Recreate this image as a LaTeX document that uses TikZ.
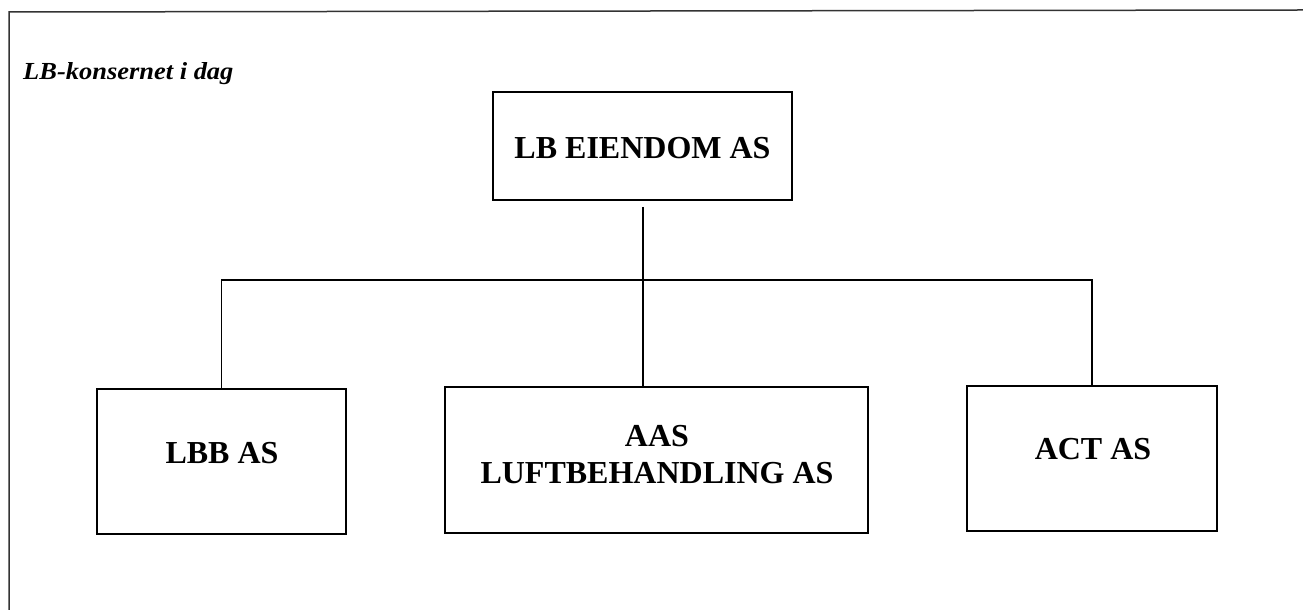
\documentclass[tikz,border=0pt]{standalone}
\usepackage{fontspec}
\setmainfont{Liberation Serif}
\begin{document}
\begin{tikzpicture}[x=1pt,y=1pt,
  orgbox/.style={draw, line width=1.6pt, inner sep=0pt, minimum width=#1},
  boxtext/.style={font=\fontsize{32}{37}\selectfont\bfseries, align=center, inner sep=0pt},
  conn/.style={line width=1.3pt},
  framel/.style={line width=1.5pt, draw=black!80}]
\useasboundingbox (0,0) rectangle (1303,610);
% frame
\coordinate (ftl) at (9,598);
\coordinate (ftr) at (1303,600);
\coordinate (fbl) at (9,0);
\draw[framel] (ftr) -- (ftl) -- (fbl);
% title
\node[anchor=base west, inner sep=0pt, font=\fontsize{24.5}{28}\selectfont\bfseries\itshape, xscale=1.08] (title) at (23,530) {LB-konsernet i dag};
% boxes
\node[orgbox=299pt, minimum height=108pt] (top) at (642.5,464) {};
\node[boxtext] (toptext) at (642.5,462) {LB EIENDOM AS};
\node[orgbox=249pt, minimum height=145pt] (lbb) at (221.5,148.5) {};
\node[boxtext] (lbbtext) at (222,157) {LBB AS};
\node[orgbox=423pt, minimum height=146pt] (aas) at (656.5,150) {};
\node[boxtext] (aastext) at (657,155.5) {AAS\\LUFTBEHANDLING AS};
\node[orgbox=250pt, minimum height=145pt] (act) at (1092,151.5) {};
\node[boxtext] (acttext) at (1093,161) {ACT AS};
% connectors
\coordinate (bus) at (643,330);
\coordinate (topstart) at (643,403);
\coordinate (aastop) at (643,223);
\draw[conn] (topstart) -- (aastop);
\draw[conn] (lbb.north) -- (lbb.north |- bus) -- (act.north |- bus) -- (act.north);
\end{tikzpicture}
\end{document}
